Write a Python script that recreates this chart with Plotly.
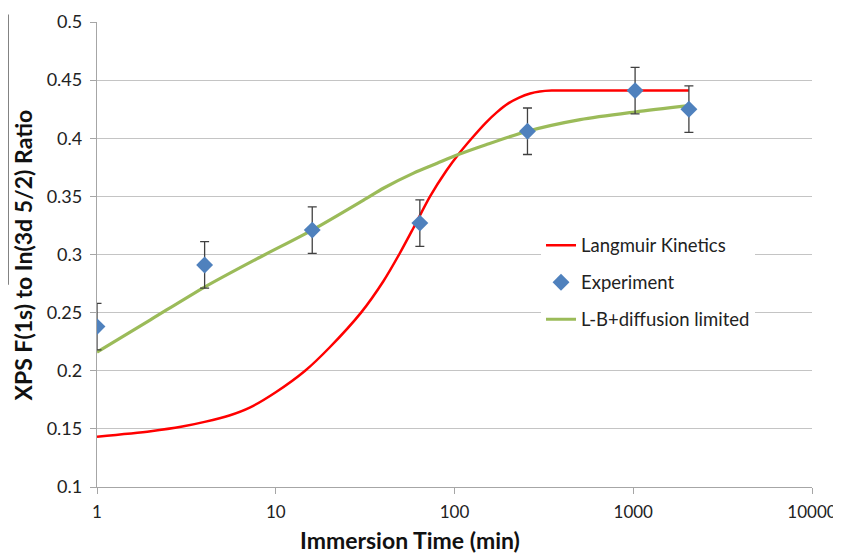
import plotly.graph_objects as go

# Experimental data
exp_time = [1, 4, 16, 64, 256, 1024, 2048]
exp_ratio = [0.238, 0.291, 0.321, 0.327, 0.406, 0.441, 0.425]
exp_err = [0.02, 0.02, 0.02, 0.02, 0.02, 0.02, 0.02]

# Langmuir Kinetics curve
lang_time = [1, 2, 3, 4, 5.5, 7.2, 10, 14.6, 20, 30, 40, 49, 59, 73, 90, 105, 125, 150, 173, 200, 230,
             265, 300, 350, 500, 1000, 2048]
lang_ratio = [0.1433, 0.148, 0.152, 0.156, 0.1615, 0.1685, 0.1815, 0.200, 0.220, 0.250, 0.277, 0.300, 0.323,
              0.350, 0.372, 0.386, 0.400, 0.4135, 0.4225, 0.430, 0.435, 0.4385, 0.4402, 0.441, 0.441, 0.441,
              0.441]

# L-B + diffusion limited curve
lb_time = [1, 2, 4, 8, 16, 32, 40, 59, 80, 105, 150, 256, 505, 1024, 2048]
lb_ratio = [0.216, 0.244, 0.272, 0.297, 0.321, 0.348, 0.357, 0.370, 0.3785, 0.386, 0.3945, 0.406, 0.416,
            0.4226, 0.428]

x_tickvals = [1, 10, 100, 1000, 10000]
x_ticktext = ["1", "10", "100", "1000", "10000"]
y_tickvals = [0.1, 0.15, 0.2, 0.25, 0.3, 0.35, 0.4, 0.45, 0.5]
y_ticktext = ["0.1", "0.15", "0.2", "0.25", "0.3", "0.35", "0.4", "0.45", "0.5"]

FONT = "Lato, 'Open Sans', sans-serif"

fig = go.Figure()

fig.add_trace(go.Scatter(
    x=lang_time, y=lang_ratio, mode="lines", name="Langmuir Kinetics",
    line=dict(color="#ff0000", width=2.5, shape="spline", smoothing=0.8),
    legendgroup="a", legendrank=1,
))
fig.add_trace(go.Scatter(
    x=lb_time, y=lb_ratio, mode="lines", name="L-B+diffusion limited",
    line=dict(color="#9bbb59", width=3.2, shape="spline", smoothing=0.8),
    legendgroup="c", legendrank=3,
))
fig.add_trace(go.Scatter(
    x=exp_time, y=exp_ratio, mode="markers", name="Experiment",
    marker=dict(symbol="diamond", size=13, color="#4f81bd"),
    error_y=dict(type="data", array=exp_err, visible=True, color="#404040", thickness=1.3, width=4.5),
    legendgroup="b", legendrank=2,
))

fig.update_layout(
    width=841, height=554,
    margin=dict(l=89, r=37, t=14, b=75, autoexpand=False),
    paper_bgcolor="white", plot_bgcolor="white",
    font=dict(family=FONT, size=18, color="#222222"),
    showlegend=True,
    legend=dict(
        x=0.621, y=0.56, xanchor="left", yanchor="top",
        bgcolor="white", borderwidth=0,
        font=dict(family=FONT, size=18.5, color="#222222"),
        traceorder="grouped", tracegroupgap=10,
    ),
    xaxis=dict(
        type="log", range=[0, 4], automargin=False,
        tickvals=x_tickvals, ticktext=x_ticktext,
        showgrid=False, showline=True, linecolor="#a6a6a6", linewidth=1.3,
        ticks="outside", ticklen=6, tickcolor="#a6a6a6",
        tickfont=dict(family=FONT, size=17, color="#222222"),
        ticklabelstandoff=3,
        zeroline=False,
    ),
    yaxis=dict(
        range=[0.1, 0.5], automargin=False,
        tickvals=y_tickvals, ticktext=y_ticktext,
        showgrid=True, gridcolor="#c4c4c4", gridwidth=1.3,
        showline=True, linecolor="#a6a6a6", linewidth=1.3,
        ticks="outside", ticklen=6, tickcolor="#a6a6a6",
        tickfont=dict(family=FONT, size=18, color="#222222"),
        ticklabelstandoff=4,
        zeroline=False,
    ),
    annotations=[
        dict(
            text="<b>XPS F(1s) to In(3d 5/2) Ratio</b>",
            xref="paper", yref="paper", x=-0.1035, y=0.5,
            xanchor="center", yanchor="middle", textangle=-90, showarrow=False,
            font=dict(family=FONT, size=23, color="#111111"),
        ),
        dict(
            text="<b>Immersion Time (min)</b>",
            xref="paper", yref="paper", x=0.4376, y=-0.114,
            xanchor="center", yanchor="middle", showarrow=False,
            font=dict(family=FONT, size=23, color="#111111"),
        ),
    ],
    shapes=[dict(
        type="line", xref="paper", yref="paper",
        x0=-0.1245, x1=-0.1245, y0=0.435, y1=1.016,
        line=dict(color="#555555", width=1.5),
    )],
)

fig.write_html("out.html")
